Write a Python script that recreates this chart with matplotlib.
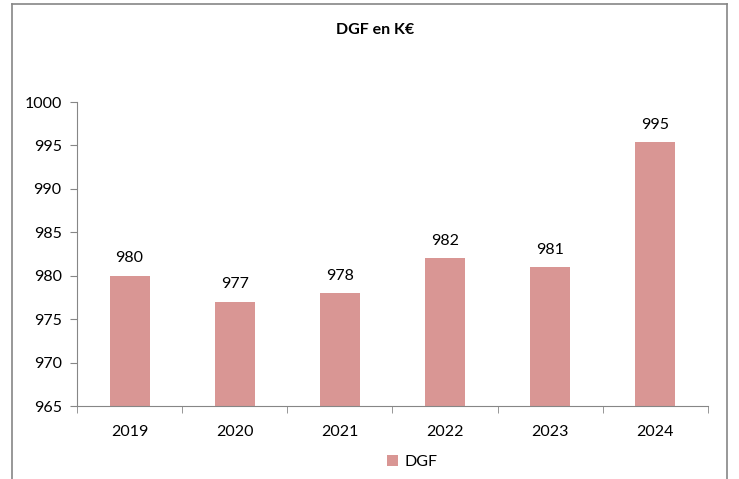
import matplotlib
matplotlib.use("Agg")
import matplotlib.pyplot as plt
from matplotlib.lines import Line2D

years = ["2019", "2020", "2021", "2022", "2023", "2024"]
dgf = [980, 977, 978, 982, 981, 995.4]
labels = ["980", "977", "978", "982", "981", "995"]

plt.rcParams["font.family"] = ["Lato", "DejaVu Sans"]

fig = plt.figure(figsize=(7.39, 4.79), dpi=100)
ax = fig.add_axes([0.1042, 0.1524, 0.8538, 0.6346])

x = range(len(years))
bars = ax.bar(x, dgf, width=0.38, color="#D99694", label="DGF", zorder=2)
for xi, v, lab in zip(x, dgf, labels):
    ax.text(xi, v + 1.2, lab, ha="center", va="bottom", fontsize=11.5)

ax.set_ylim(965, 1000)
ax.set_xlim(-0.5, len(years) - 0.5)
ax.set_yticks(range(965, 1001, 5))
ax.set_xticks(list(x))
ax.set_xticklabels(years)
ax.set_xticks([i - 0.5 for i in range(len(years) + 1)], minor=True)
ax.tick_params(axis="x", which="major", length=0, labelsize=11.5, pad=14)
ax.tick_params(axis="x", which="minor", length=5, color="#868686")
ax.tick_params(axis="y", length=5, color="#868686", labelsize=11.5, pad=6)

for s in ["top", "right"]:
    ax.spines[s].set_visible(False)
for s in ["left", "bottom"]:
    ax.spines[s].set_color("#868686")

fig.text(0.507, 0.937, "DGF en K€", ha="center", va="center", fontsize=11.5, fontweight="bold")
fig.legend(handles=[bars], labels=["DGF"], loc="center", bbox_to_anchor=(0.558, 0.035),
           frameon=False, fontsize=11.5, handlelength=0.7, handleheight=0.7, handletextpad=0.4)

# outer frame, open at the bottom
frame_col = "#868686"
fig.add_artist(Line2D([0.016, 0.016], [0.0, 0.992], color=frame_col, lw=1.2, transform=fig.transFigure))
fig.add_artist(Line2D([0.984, 0.984], [0.0, 0.992], color=frame_col, lw=1.2, transform=fig.transFigure))
fig.add_artist(Line2D([0.016, 0.984], [0.992, 0.992], color=frame_col, lw=1.2, transform=fig.transFigure))

fig.savefig("out.png", dpi=100)
